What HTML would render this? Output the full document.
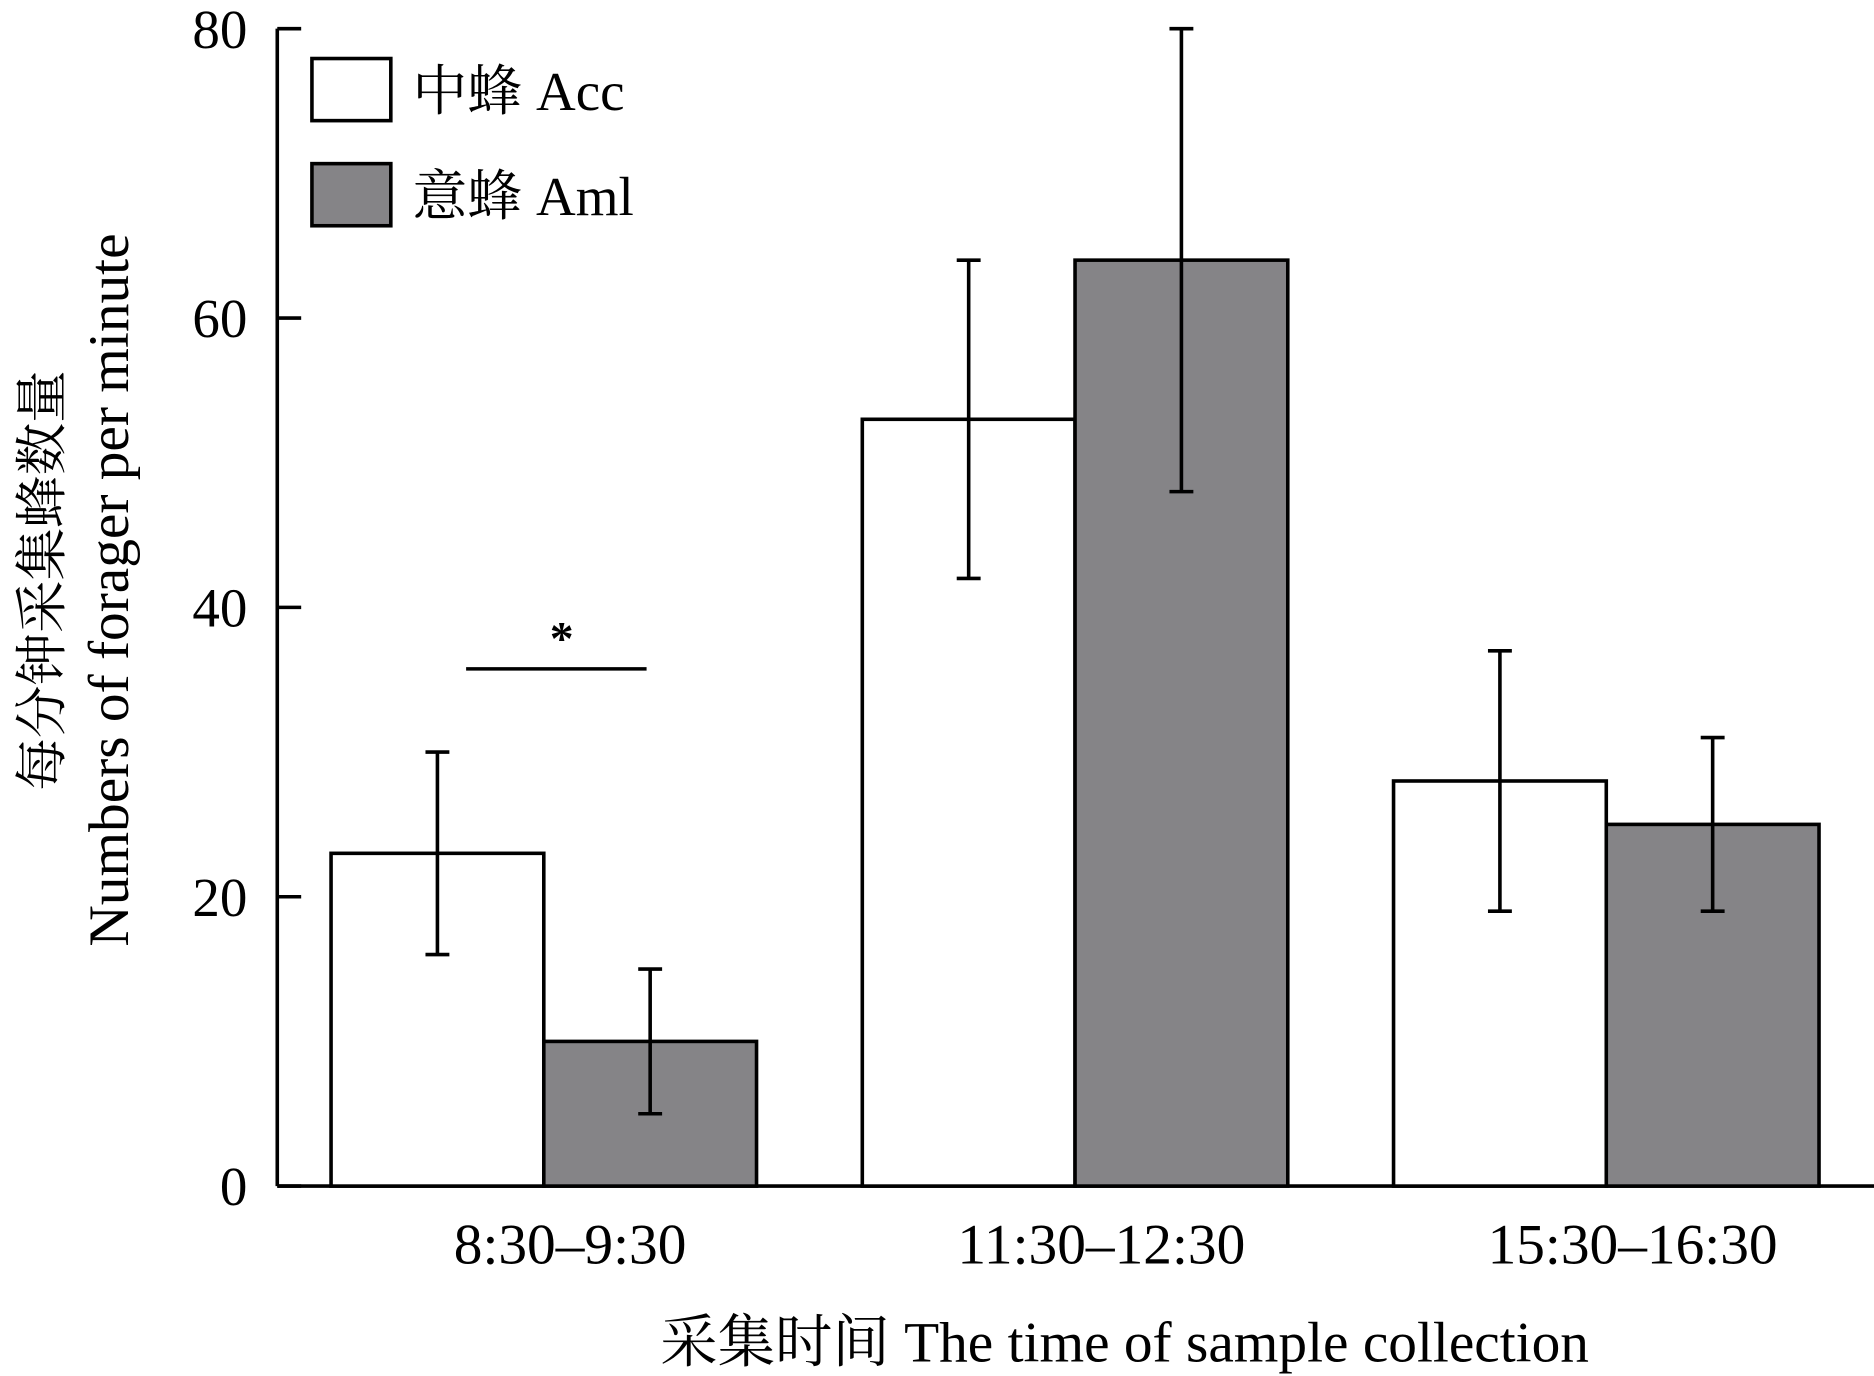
<!DOCTYPE html>
<html><head><meta charset="utf-8"><style>
html,body{margin:0;padding:0;background:#fff;}
svg{display:block;}
text{font-family:"Liberation Serif","Noto Serif CJK SC","Noto Sans CJK SC",serif;fill:#000;}
</style></head><body>
<svg id="chart" width="1874" height="1376" viewBox="0 0 1568 1152" preserveAspectRatio="none" xmlns="http://www.w3.org/2000/svg">
<g id="axes"></g>
<g id="bars"></g>
<g id="errs"></g>
<g>
<rect x="261" y="49" width="66" height="52" fill="#fff" stroke="#000" stroke-width="3"/>
<text x="345" y="92" font-size="46">中蜂 Acc</text>
<rect x="261" y="137" width="66" height="52" fill="#858487" stroke="#000" stroke-width="3"/>
<text x="345" y="180" font-size="46">意蜂 Aml</text>
</g>
<line x1="390" y1="560" x2="541" y2="560" stroke="#000" stroke-width="3"/>
<text x="470" y="548" font-size="40" text-anchor="middle" font-weight="bold">*</text>
<text transform="translate(50,486) rotate(-90)" font-size="44" text-anchor="middle">每分钟采集蜂数量</text>
<text transform="translate(107,494) rotate(-90)" font-size="48" text-anchor="middle">Numbers of forager per minute</text>
<text x="941" y="1140" font-size="48" text-anchor="middle">采集时间 The time of sample collection</text>
</svg>
<script>
const categories=["8:30–9:30","11:30–12:30","15:30–16:30"];
const accValues=[23,53,28];
const accLow=[16,42,19];
const accHigh=[30,64,37];
const amlValues=[10,64,25];
const amlLow=[5,48,19];
const amlHigh=[15,80,31];
const yTicks=[0,20,40,60,80];
const NS="http://www.w3.org/2000/svg";
const x0=232,x1=1568,yBase=993,yTop=24,yMax=80;
const y=v=>yBase-(yBase-yTop)*v/yMax;
const groupW=444.5, bw=178;
const gc=i=>455+i*groupW;
function mk(tag,attrs,parent){const e=document.createElementNS(NS,tag);for(const k in attrs)e.setAttribute(k,attrs[k]);parent.appendChild(e);return e;}
const axes=document.getElementById('axes'),bars=document.getElementById('bars'),errs=document.getElementById('errs');
let a=mk('line',{x1:x0,y1:yTop,x2:x0,y2:yBase,stroke:'#000','stroke-width':3},axes);


a=mk('line',{x1:x0,y1:yBase,x2:x1,y2:yBase,stroke:'#000','stroke-width':3},axes);


yTicks.forEach(t=>{
 const l=mk('line',{x1:x0,y1:y(t),x2:x0+20,y2:y(t),stroke:'#000','stroke-width':3},axes);
 
 
 const tx=mk('text',{x:207,y:y(t)+16,'font-size':46,'text-anchor':'end'},axes);
 tx.textContent=t;
 
 
});
categories.forEach((c,i)=>{
 const tx=mk('text',{x:gc(i)+22,y:1058,'font-size':48,'text-anchor':'middle'},axes);
 tx.textContent=c;
 
 
 const series=[[accValues,accLow,accHigh,'#fff',-bw,'acc'],[amlValues,amlLow,amlHigh,'#858487',0,'aml']];
 series.forEach(s=>{
  const v=s[0][i];
  const bx=gc(i)+s[4];
  const r=mk('rect',{x:bx,y:y(v),width:bw,height:yBase-y(v),fill:s[3],stroke:'#000','stroke-width':3},bars);
  
  
  const cx=bx+bw/2;
  const g=mk('g',{stroke:'#000','stroke-width':3},errs);
  
  
  mk('line',{x1:cx,y1:y(s[1][i]),x2:cx,y2:y(s[2][i])},g);
  mk('line',{x1:cx-10,y1:y(s[1][i]),x2:cx+10,y2:y(s[1][i])},g);
  mk('line',{x1:cx-10,y1:y(s[2][i]),x2:cx+10,y2:y(s[2][i])},g);
 });
});
</script>
</body></html>
